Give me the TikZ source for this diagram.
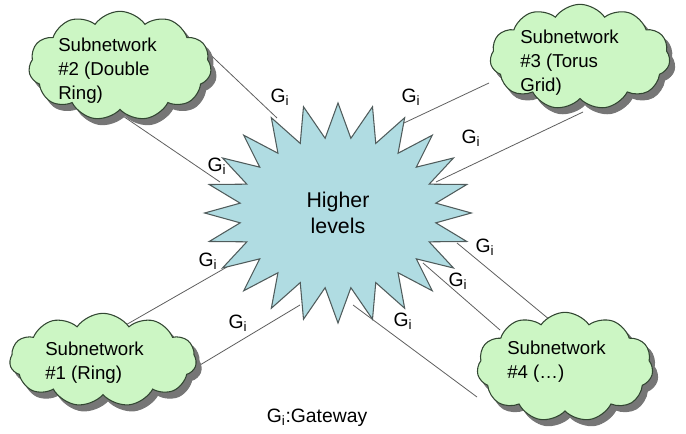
\documentclass[tikz,border=0pt]{standalone}
\usepackage{fontspec}
\setmainfont{Liberation Sans}
\usetikzlibrary{shapes.symbols,calc,backgrounds}
\definecolor{cloudfill}{RGB}{204,246,196}
\definecolor{cloudline}{RGB}{50,70,50}
\definecolor{cloudshade}{RGB}{118,118,118}
\definecolor{starfill}{RGB}{176,220,226}
\definecolor{starline}{RGB}{80,92,92}
\definecolor{linkgray}{RGB}{95,95,95}
\tikzset{
  subnet/.style={cloud,cloud puffs=11,cloud puff arc=110,cloud ignores aspect,
    draw=cloudline,fill=cloudfill,line width=0.8pt,inner sep=0pt},
  subshade/.style={subnet,draw=cloudshade,fill=cloudshade},
  subtext/.style={align=left,anchor=west,inner sep=0pt,font=\fontsize{14}{18}\selectfont},
  higher/.style={starburst,starburst points=24,starburst point height=26pt,
    random starburst=0,draw=starline,fill=starfill,line width=0.8pt,
    minimum width=200pt,minimum height=165pt,inner sep=0pt,align=center,
    font=\fontsize{16}{19.5}\selectfont},
  gw/.style={inner sep=0pt,font=\fontsize{14.5}{17}\selectfont},
  link/.style={draw=linkgray,line width=0.6pt}
}
\begin{document}
\begin{tikzpicture}[x=0.75pt,y=-0.75pt]
\useasboundingbox (0,0) rectangle (686,434);
\node[higher] (hl) at (338,213) {Higher\\levels};
% subnetworks, each with its shadow
\foreach \n/\x/\y/\w/\h in {c2/120/66/137/82,c3/580/57/135/79,c1/103/360/140/70,c4/565/367/132/82}{
  \node[subshade,minimum width=\w pt,minimum height=\h pt] (\n s) at (\x+5,\y+6) {};
  \node[subnet,minimum width=\w pt,minimum height=\h pt] (\n) at (\x,\y) {};
}
\node[subtext] (t2) at (58,71) {Subnetwork\\\#2 (Double\\Ring)};
\node[subtext] (t3) at (520,63) {Subnetwork\\\#3 (Torus\\Grid)};
\node[subtext] (t1) at (45,363) {Subnetwork\\\#1 (Ring)};
\node[subtext] (t4) at (507,362) {Subnetwork\\\#4 (\dots)};
% gateways
\begin{pgfonlayer}{background}
\draw[link] ($(c2)+(78,-23)$) -- ($(hl)+(-61,-95)$);
\draw[link] ($(c2)+(-3,46)$) -- ($(hl)+(-118,-31)$);
\draw[link] ($(c3)+(-91,26)$) -- ($(hl)+(66,-90)$);
\draw[link] ($(c3)+(3,55)$) -- ($(hl)+(98,-31)$);
\draw[link] ($(c1)+(14,-30)$) -- ($(hl)+(-111,54)$);
\draw[link] ($(c1)+(77,17)$) -- ($(hl)+(-38,92)$);
\draw[link] ($(c4)+(-15,-47)$) -- ($(hl)+(119,30)$);
\draw[link] ($(c4)+(-65,-37)$) -- ($(hl)+(85,50)$);
\draw[link] ($(c4)+(-88,30)$) -- ($(hl)+(15,92)$);
\end{pgfonlayer}
\node[gw] (g1) at (280,97) {G\textsubscript{i}};
\node[gw] (g2) at (217,166) {G\textsubscript{i}};
\node[gw] (g3) at (411,97) {G\textsubscript{i}};
\node[gw] (g4) at (471,138) {G\textsubscript{i}};
\node[gw] (g5) at (208,261) {G\textsubscript{i}};
\node[gw] (g6) at (238,323) {G\textsubscript{i}};
\node[gw] (g7) at (485,247) {G\textsubscript{i}};
\node[gw] (g8) at (458,281) {G\textsubscript{i}};
\node[gw] (g9) at (403,321) {G\textsubscript{i}};
\node[gw] (key) at (317,418) {G\textsubscript{i}:Gateway};
\end{tikzpicture}
\end{document}
